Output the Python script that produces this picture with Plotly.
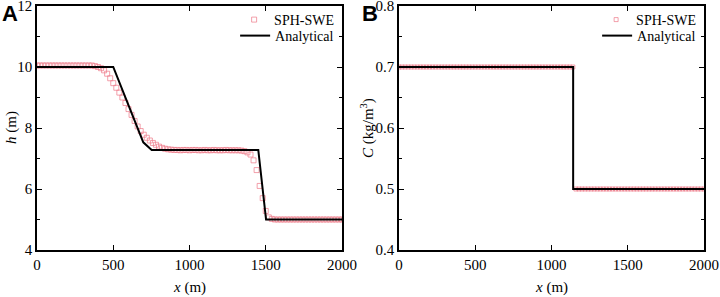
import plotly.graph_objects as go

# ---------------- Panel A data ----------------
sph_x_a = list(range(0, 2001, 20))
sph_h_a = [
    10.05, 10.05, 10.05, 10.05, 10.05, 10.05, 10.05, 10.05, 10.05, 10.05,   # 0-180
    10.05, 10.05, 10.05, 10.05, 10.05, 10.05, 10.05, 10.05, 10.05, 10.03,   # 200-380
    10.00, 9.96, 9.89, 9.78, 9.63, 9.47, 9.32, 9.16, 9.00, 8.82,            # 400-580
    8.62, 8.43, 8.23, 8.05, 7.90, 7.78, 7.68, 7.59, 7.51, 7.45,             # 600-780
    7.39, 7.35, 7.32, 7.30, 7.29, 7.28, 7.28, 7.27, 7.28, 7.28,             # 800-980
    7.27, 7.28, 7.28, 7.27, 7.27, 7.28, 7.27, 7.27, 7.28, 7.27,             # 1000-1180
    7.27, 7.27, 7.28, 7.27, 7.27, 7.27, 7.27, 7.26, 7.24, 7.20,             # 1200-1380
    7.13, 6.94, 6.62, 6.10, 5.70, 5.28, 5.07, 5.02, 5.00, 5.00,             # 1400-1580
    5.00, 5.00, 5.00, 5.00, 5.00, 5.00, 5.00, 5.00, 5.00, 5.00,             # 1600-1780
    5.00, 5.00, 5.00, 5.00, 5.00, 5.00, 5.00, 5.00, 5.00, 5.00,             # 1800-1980
    5.00,                                                                   # 2000
]
ana_x_a = [0, 500, 697, 752, 1451, 1502, 2000]
ana_h_a = [10.0, 10.0, 7.53, 7.28, 7.28, 5.0, 5.0]

# ---------------- Panel B data ----------------
sph_x_b = list(range(0, 2001, 20))
sph_c_b = [0.7] * 58 + [0.5] * 43          # 0-1140 at 0.7, 1160-2000 at 0.5
ana_x_b = [0, 1142, 1142, 2000]
ana_c_b = [0.7, 0.7, 0.5, 0.5]

x_ticks = [0, 500, 1000, 1500, 2000]
y_ticks_a = [4, 6, 8, 10, 12]
y_ticks_b = [0.4, 0.5, 0.6, 0.7, 0.8]

SERIF = "Times New Roman"
SANS = "Arial"
PINK = "rgba(238,120,135,0.7)"

fig = go.Figure()

fig.add_trace(go.Scatter(x=sph_x_a, y=sph_h_a, mode="markers", name="SPH-SWE",
                         marker=dict(symbol="square-open", size=5, color=PINK,
                                     line=dict(width=1, color=PINK)),
                         xaxis="x", yaxis="y", legend="legend"))
fig.add_trace(go.Scatter(x=ana_x_a, y=ana_h_a, mode="lines", name="Analytical",
                         line=dict(color="black", width=2),
                         xaxis="x", yaxis="y", legend="legend2"))
fig.add_trace(go.Scatter(x=sph_x_b, y=sph_c_b, mode="markers", name="SPH-SWE",
                         marker=dict(symbol="square-open", size=4, color=PINK,
                                     line=dict(width=1, color=PINK)),
                         xaxis="x2", yaxis="y2", legend="legend3"))
fig.add_trace(go.Scatter(x=ana_x_b, y=ana_c_b, mode="lines", name="Analytical",
                         line=dict(color="black", width=2),
                         xaxis="x2", yaxis="y2", legend="legend4"))

W, H = 720, 297
xa = (37 / W, 342 / W)
xb = (399 / W, 704 / W)
yd = (47 / H, 291 / H)

axis_common = dict(showline=True, linecolor="black", linewidth=1.5, mirror="ticks",
                   ticks="inside", ticklen=5, tickwidth=1.2, tickcolor="black",
                   showgrid=False, zeroline=False, ticklabeloverflow="allow",
                   automargin=False,
                   tickfont=dict(family=SERIF, size=15, color="black"))


def leg(xr, yc):
    return dict(x=xr, y=1 - yc / H, xanchor="right", yanchor="middle",
                bgcolor="rgba(0,0,0,0)", font=dict(family=SERIF, size=14),
                tracegroupgap=0, itemwidth=30)


fig.update_layout(
    width=W, height=H,
    margin=dict(l=0, r=0, t=0, b=0, autoexpand=False),
    paper_bgcolor="white", plot_bgcolor="white",
    font=dict(family=SERIF, color="black"),
    xaxis=dict(domain=xa, range=[0, 2000], tickvals=x_ticks, anchor="y", **axis_common),
    yaxis=dict(domain=yd, range=[4, 12], tickvals=y_ticks_a, anchor="x",
               minor=dict(tickvals=[5, 7, 9, 11], ticklen=3, tickcolor="black", ticks="inside"),
               **axis_common),
    xaxis2=dict(domain=xb, range=[0, 2000], tickvals=x_ticks, anchor="y2", **axis_common),
    yaxis2=dict(domain=yd, range=[0.4, 0.8], tickvals=y_ticks_b,
                ticktext=["0.4", "0.5", "0.6", "0.7", "0.8"], anchor="x2",
                minor=dict(tickvals=[0.45, 0.55, 0.65, 0.75], ticklen=3, tickcolor="black", ticks="inside"),
                **axis_common),
    legend=leg(xa[1] - 0.004, 20),
    legend2=leg(xa[1] - 0.004, 36),
    legend3=leg(xb[1] - 0.004, 20),
    legend4=leg(xb[1] - 0.004, 36),
    showlegend=True,
)

ann = []
# axis titles
ann.append(dict(text="<i>x</i> (m)", x=(xa[0] + xa[1]) / 2, y=1 - 287 / H, xref="paper", yref="paper",
                showarrow=False, font=dict(family=SERIF, size=15), xanchor="center", yanchor="middle"))
ann.append(dict(text="<i>x</i> (m)", x=(xb[0] + xb[1]) / 2, y=1 - 287 / H, xref="paper", yref="paper",
                showarrow=False, font=dict(family=SERIF, size=15), xanchor="center", yanchor="middle"))
ann.append(dict(text="<i>h</i> (m)", x=11 / W, y=(yd[0] + yd[1]) / 2, xref="paper", yref="paper",
                showarrow=False, textangle=-90, font=dict(family=SERIF, size=15),
                xanchor="center", yanchor="middle"))
ann.append(dict(text="<i>C</i> (kg/m<sup>3</sup>)", x=367 / W, y=(yd[0] + yd[1]) / 2, xref="paper", yref="paper",
                showarrow=False, textangle=-90, font=dict(family=SERIF, size=15),
                xanchor="center", yanchor="middle"))
# panel labels
ann.append(dict(text="<b>A</b>", x=0 / W, y=1 + 1 / H, xref="paper", yref="paper", showarrow=False,
                font=dict(family=SANS, size=22),
                xanchor="left", yanchor="top"))
ann.append(dict(text="<b>B</b>", x=360 / W, y=1 + 1 / H, xref="paper", yref="paper", showarrow=False,
                font=dict(family=SANS, size=22),
                xanchor="left", yanchor="top"))
fig.update_layout(annotations=ann)

fig.write_html("out.html", config={"displayModeBar": False},
               post_script="document.body.style.margin='0';document.body.style.overflow='hidden';")
